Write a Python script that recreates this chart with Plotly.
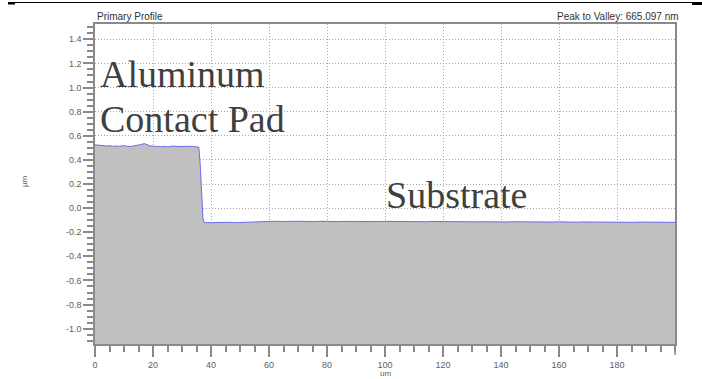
import plotly.graph_objects as go

# ---- data ----
pad_x = [0, 1, 2, 3, 4, 5, 6, 7, 8, 9,
         10, 11, 12, 13, 14, 15, 16, 17, 18, 19,
         20, 21, 22, 23, 24, 25, 26, 27, 28, 29,
         30, 31, 32, 33, 34, 35, 35.8]
pad_y = [0.525, 0.522, 0.518, 0.520, 0.515, 0.518, 0.513, 0.516, 0.512, 0.515,
         0.518, 0.513, 0.510, 0.514, 0.517, 0.522, 0.528, 0.535, 0.524, 0.516,
         0.513, 0.515, 0.511, 0.509, 0.512, 0.508, 0.512, 0.515, 0.512, 0.509,
         0.511, 0.513, 0.510, 0.512, 0.511, 0.510, 0.505]
step_x = [36.3, 36.8, 37.2, 37.6]
step_y = [0.35, 0.10, -0.08, -0.118]
sub_x = [38, 40, 42, 44, 46, 48, 50, 52, 54, 56,
         58, 60, 62, 64, 66, 68, 70, 72, 74, 76,
         78, 80, 82, 84, 86, 88, 90, 92, 94, 96,
         98, 100, 102, 104, 106, 108, 110, 112, 114, 116,
         118, 120, 122, 124, 126, 128, 130, 132, 134, 136,
         138, 140, 142, 144, 146, 148, 150, 152, 154, 156,
         158, 160, 162, 164, 166, 168, 170, 172, 174, 176,
         178, 180, 182, 184, 186, 188, 190, 192, 194, 196,
         198, 200]
sub_y = [-0.120, -0.121, -0.119, -0.120, -0.118, -0.121, -0.119, -0.120, -0.118, -0.115,
         -0.110, -0.112, -0.109, -0.111, -0.108, -0.110, -0.109, -0.111, -0.110, -0.112,
         -0.109, -0.111, -0.110, -0.112, -0.110, -0.111, -0.109, -0.112, -0.110, -0.111,
         -0.112, -0.110, -0.111, -0.113, -0.111, -0.112, -0.110, -0.112, -0.113, -0.111,
         -0.112, -0.113, -0.112, -0.114, -0.112, -0.113, -0.112, -0.114, -0.113, -0.115,
         -0.113, -0.114, -0.115, -0.113, -0.114, -0.116, -0.114, -0.115, -0.113, -0.115,
         -0.116, -0.114, -0.116, -0.115, -0.117, -0.115, -0.116, -0.117, -0.115, -0.117,
         -0.116, -0.118, -0.116, -0.117, -0.118, -0.116, -0.117, -0.118, -0.117, -0.118,
         -0.117, -0.118]

x_range = [0, 200]
y_range = [-1.127, 1.527]
x_ticks = [0, 20, 40, 60, 80, 100, 120, 140, 160, 180]
y_ticks = [-1.0, -0.8, -0.6, -0.4, -0.2, 0.0, 0.2, 0.4, 0.6, 0.8, 1.0, 1.2, 1.4]
y_tick_labels = ["-1.0", "-0.8", "-0.6", "-0.4", "-0.2", "0.0", "0.2", "0.4",
                 "0.6", "0.8", "1.0", "1.2", "1.4"]

title_left = "Primary Profile"
title_right = "Peak to Valley: 665.097 nm"
x_label = "um"
y_label = "µm"

profile_x = pad_x + step_x + sub_x
profile_y = pad_y + step_y + sub_y

# ---- figure ----
L, R, T, B = 95, 27, 24, 35
W, H = 702, 379
pw, ph = W - L - R, H - T - B

def px_x(p):
    return (p - L) / pw

def px_y(p):
    return (H - B - p) / ph

fig = go.Figure()
fig.add_trace(go.Scatter(x=x_range, y=[y_range[0], y_range[0]], mode="lines",
                         line=dict(width=0), hoverinfo="skip", showlegend=False))
fig.add_trace(go.Scatter(x=profile_x, y=profile_y, mode="lines", fill="tonexty",
                         fillcolor="#c0c0c0", line=dict(color="#6b6bf0", width=1),
                         showlegend=False))

axis_color = "#8a8a8a"
grid_color = "#a8a8a8"
tick_font = dict(family="Liberation Sans, Arial", size=9, color="#606060")
label_font = dict(family="Liberation Sans, Arial", size=8, color="#606060")

fig.update_xaxes(range=x_range, tickvals=x_ticks, showline=True, linecolor=axis_color,
                 linewidth=1.5, mirror=True, ticks="outside", ticklen=11, tickwidth=1.5,
                 tickcolor=axis_color, tickfont=tick_font, showgrid=True,
                 gridcolor=grid_color, griddash="1px,2px", gridwidth=1, zeroline=False,
                 automargin=False,
                 minor=dict(dtick=5, tick0=0, ticks="outside", ticklen=6,
                            tickcolor=axis_color, tickwidth=1.5, showgrid=False))
fig.update_yaxes(range=y_range, tickvals=y_ticks, ticktext=y_tick_labels, showline=True,
                 linecolor=axis_color, linewidth=1.5, mirror=True, ticks="outside",
                 ticklen=10, tickwidth=1.5, tickcolor=axis_color, tickfont=tick_font,
                 showgrid=True, gridcolor=grid_color, griddash="1px,2px", gridwidth=1,
                 zeroline=False, automargin=False,
                 minor=dict(dtick=0.05, tick0=0, ticks="outside", ticklen=6,
                            tickcolor=axis_color, tickwidth=1.5, showgrid=False))

serif = dict(family="Liberation Serif, Times New Roman", size=38, color="#404040")
annotations = [
    dict(text="Aluminum", x=1.2, y=px_y(74), xref="x", yref="paper", xanchor="left",
         yanchor="middle", showarrow=False, font=serif),
    dict(text="Contact Pad", x=1.2, y=px_y(119), xref="x", yref="paper", xanchor="left",
         yanchor="middle", showarrow=False, font=serif),
    dict(text="Substrate", x=99.5, y=px_y(195), xref="x", yref="paper", xanchor="left",
         yanchor="middle", showarrow=False, font=serif),
    dict(text=title_left, x=0, y=1.0, xref="paper", yref="paper", xanchor="left",
         yanchor="bottom", showarrow=False,
         font=dict(family="Liberation Sans, Arial", size=10, color="#333333")),
    dict(text=title_right, x=px_x(681), y=1.0, xref="paper", yref="paper",
         xanchor="right", yanchor="bottom", showarrow=False,
         font=dict(family="Liberation Sans, Arial", size=10, color="#333333")),
    dict(text=x_label, x=100, y=px_y(373), xref="x", yref="paper", xanchor="center",
         yanchor="middle", showarrow=False, font=label_font),
    dict(text=y_label, x=px_x(24), y=px_y(181), xref="paper", yref="paper",
         xanchor="center", yanchor="middle", textangle=-90, showarrow=False,
         font=label_font),
]

shapes = [
    dict(type="line", xref="paper", yref="paper", x0=px_x(8), x1=px_x(702),
         y0=px_y(2.5), y1=px_y(2.5), line=dict(color="black", width=1)),
    dict(type="line", xref="paper", yref="paper", x0=px_x(8), x1=px_x(15),
         y0=px_y(3.5), y1=px_y(3.5), line=dict(color="black", width=2)),
    dict(type="line", xref="paper", yref="paper", x0=px_x(692), x1=px_x(702),
         y0=px_y(4), y1=px_y(4), line=dict(color="black", width=2)),
    dict(type="line", xref="paper", yref="paper", x0=1, x1=1,
         y0=0, y1=px_y(355), line=dict(color=axis_color, width=1.5)),
]

fig.update_layout(width=W, height=H, margin=dict(l=L, r=R, t=T, b=B),
                  paper_bgcolor="white", plot_bgcolor="white",
                  annotations=annotations, shapes=shapes, showlegend=False)

fig.write_html("out.html", config={"displayModeBar": False},
               post_script="document.body.style.margin='0';document.body.style.overflow='hidden';")
